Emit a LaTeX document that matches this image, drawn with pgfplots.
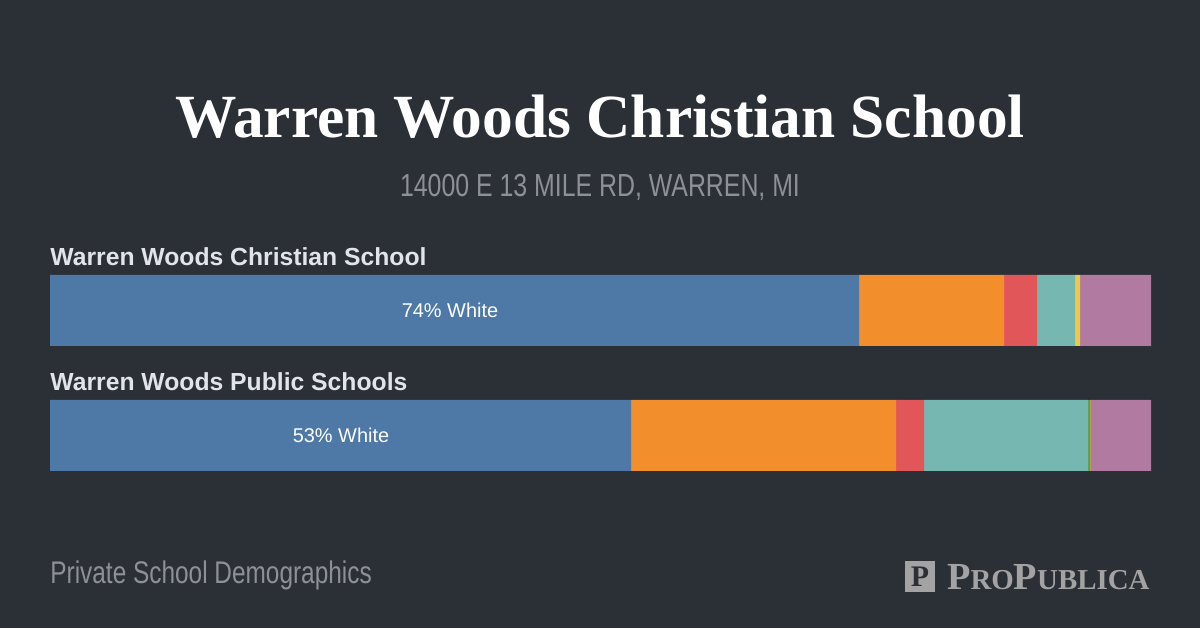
\documentclass[border=0pt]{standalone}
\usepackage{pgfplots}
\pgfplotsset{compat=1.18}
\usepackage{fontspec}
\setmainfont{Liberation Sans}
\newfontfamily\titlefont{Liberation Serif}
\newfontfamily\condfont{Liberation Sans}[FakeStretch=0.78]
\definecolor{bg}{HTML}{2B2F36}
\definecolor{cWhite}{HTML}{4E79A7}
\definecolor{cHisp}{HTML}{F28E2B}
\definecolor{cBlack}{HTML}{E15759}
\definecolor{cAsian}{HTML}{76B7B2}
\definecolor{cPac}{HTML}{59A14F}
\definecolor{cNat}{HTML}{EDC948}
\definecolor{cTwo}{HTML}{B07AA1}
\definecolor{lbl}{HTML}{E1E4E8}
\definecolor{sub}{HTML}{8D9096}
\definecolor{logo}{HTML}{A3A3A3}

\begin{document}
\begin{tikzpicture}
% pixel grid: 1 px = 0.5bp, y measured from the bottom (628 - pixel row)
\begin{scope}[x=0.5bp,y=0.5bp]
\fill[bg] (0,0) rectangle (1200,628);
\node[font=\titlefont\bfseries\fontsize{30.8}{34}\selectfont, text=white] at (600,511) {Warren Woods Christian School};
\node[font=\condfont\fontsize{16}{19}\selectfont, text=sub] at (600,441) {14000 E 13 MILE RD, WARREN, MI};
\node[font=\bfseries\fontsize{12.4}{14}\selectfont, text=lbl, anchor=west, inner sep=0pt] at (50,371) {Warren Woods Christian School};
\node[font=\bfseries\fontsize{12.4}{14}\selectfont, text=lbl, anchor=west, inner sep=0pt] at (50,246) {Warren Woods Public Schools};
\node[font=\condfont\fontsize{15.7}{18}\selectfont, text=sub, anchor=west, inner sep=0pt] at (50,53) {Private School Demographics};
\fill[logo] (905,36) rectangle (935,67);
\node[font=\titlefont\bfseries\fontsize{15}{17}\selectfont, text=bg] at (920,51) {P};
\node[font=\titlefont\bfseries, text=logo, anchor=east, inner sep=0pt] at (1150,51)
  {\fontsize{19.2}{21}\selectfont P\fontsize{14.5}{16}\selectfont RO\fontsize{19.2}{21}\selectfont P\fontsize{14.5}{16}\selectfont UBLICA};
\end{scope}

\begin{axis}[
  at={(25bp,0bp)}, anchor=south west,
  scale only axis, width=550.5bp, height=314bp,
  xmin=0, xmax=100, ymin=0, ymax=628,
  hide axis, clip=false,
  xbar stacked, bar width=71,
  every axis plot/.append style={draw=none},
]
\addplot[fill=cWhite] coordinates {(73.48,317.5) (52.77,192.5)};
\addplot[fill=cHisp]  coordinates {(13.17,317.5) (24.07,192.5)};
\addplot[fill=cBlack] coordinates {(3.00,317.5) (2.54,192.5)};
\addplot[fill=cAsian] coordinates {(3.45,317.5) (14.90,192.5)};
\addplot[fill=cPac]   coordinates {(0.00,317.5) (0.15,192.5)};
\addplot[fill=cNat]   coordinates {(0.45,317.5) (0.09,192.5)};
\addplot[fill=cTwo]   coordinates {(6.45,317.5) (5.48,192.5)};
\end{axis}

\begin{scope}[x=0.5bp,y=0.5bp]
\node[font=\fontsize{10}{12}\selectfont, text=white] at (450,318) {74\% White};
\node[font=\fontsize{10}{12}\selectfont, text=white] at (341,193) {53\% White};
\end{scope}
\end{tikzpicture}
\end{document}
